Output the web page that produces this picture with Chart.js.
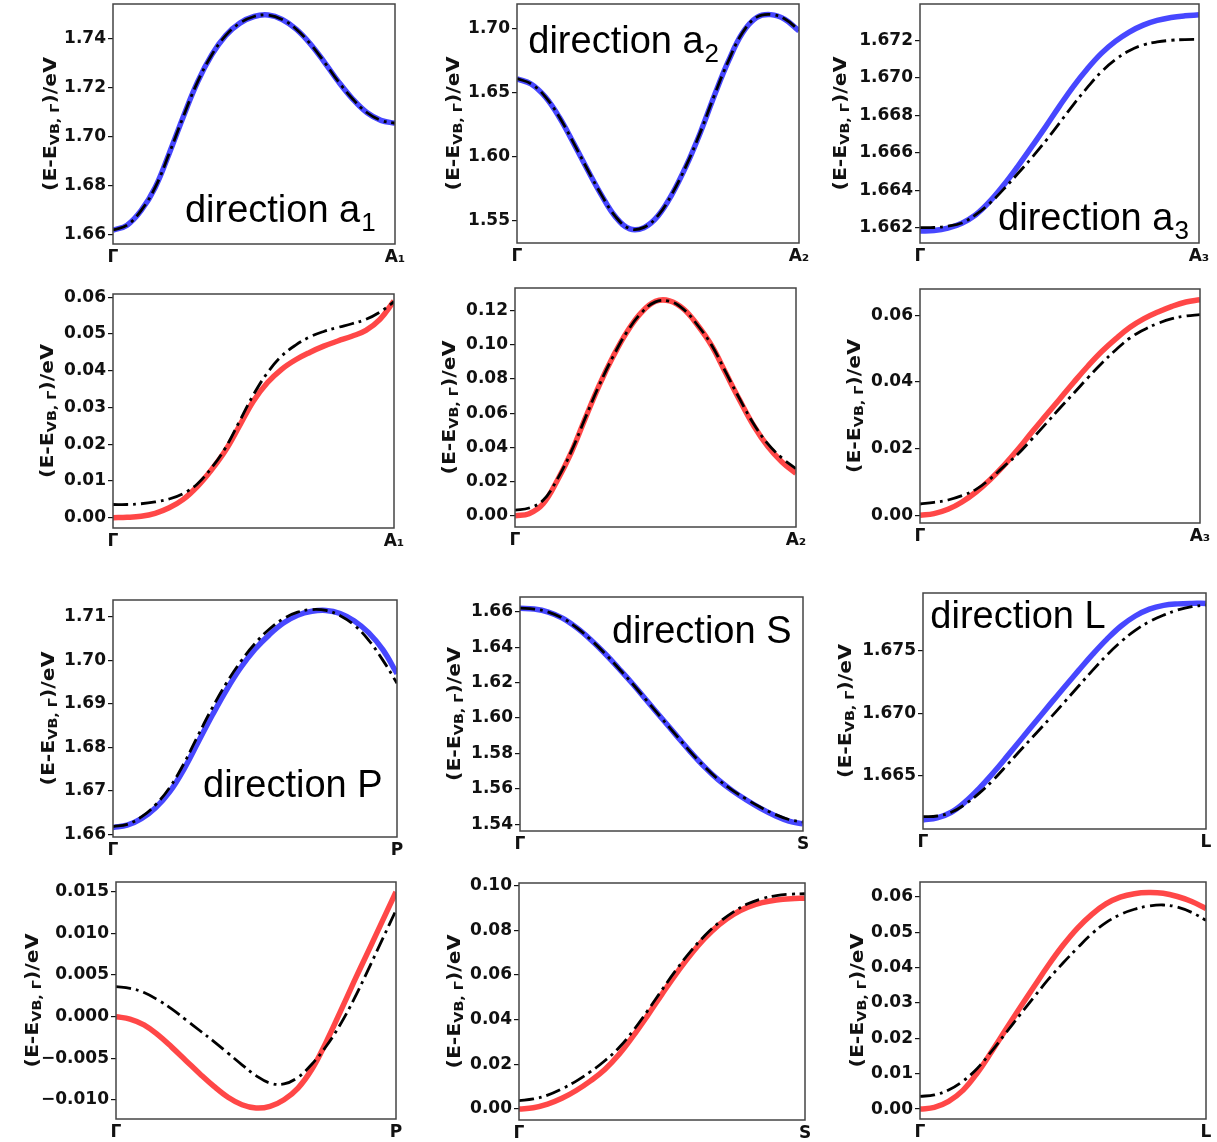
<!DOCTYPE html>
<html>
<head>
<meta charset="utf-8">
<title>Band dispersion along a1, a2, a3, P, S, L</title>
<script src="https://cdn.jsdelivr.net/npm/chart.js@4.4.1/dist/chart.umd.min.js"></script>
<style>
  html, body { margin: 0; padding: 0; background: #fff; overflow: hidden; }
  #figure { position: relative; width: 1217px; height: 1142px; }
  #figure canvas { position: absolute; }
</style>
</head>
<body>
<div id="figure"></div>
<script>
// fraction of the path from Γ to the end point
const kPath = [0, 0.05, 0.1, 0.15, 0.2, 0.25, 0.3, 0.35, 0.4, 0.45, 0.5,
               0.55, 0.6, 0.65, 0.7, 0.75, 0.8, 0.85, 0.9, 0.95, 1];

// --- direction a1 ---
const a1Labels = ['Γ', 'A₁'];
const a1VbTicks = [1.66, 1.68, 1.70, 1.72, 1.74];
const a1VbCalc = [1.6620, 1.6640, 1.6700, 1.6795, 1.6935, 1.7085, 1.7225, 1.7335, 1.7415, 1.7465, 1.7492,
                  1.7498, 1.7480, 1.7440, 1.7380, 1.7305, 1.7225, 1.7155, 1.7100, 1.7068, 1.7056];
const a1VbFit  = [1.6620, 1.6640, 1.6700, 1.6795, 1.6935, 1.7085, 1.7225, 1.7335, 1.7415, 1.7465, 1.7492,
                  1.7498, 1.7480, 1.7440, 1.7380, 1.7305, 1.7225, 1.7155, 1.7100, 1.7068, 1.7056];
const a1CbTicks = [0, 0.01, 0.02, 0.03, 0.04, 0.05, 0.06];
const a1CbCalc = [0.0000, 0.0001, 0.0004, 0.0012, 0.0027, 0.0050, 0.0085, 0.0130, 0.0183, 0.0250, 0.0318,
                  0.0368, 0.0404, 0.0430, 0.0450, 0.0467, 0.0481, 0.0494, 0.0510, 0.0540, 0.0590];
const a1CbFit  = [0.0036, 0.0036, 0.0038, 0.0043, 0.0051, 0.0066, 0.0092, 0.0135, 0.0190, 0.0262, 0.0335,
                  0.0395, 0.0440, 0.0470, 0.0492, 0.0507, 0.0518, 0.0528, 0.0540, 0.0560, 0.0588];

// --- direction a2 ---
const a2Labels = ['Γ', 'A₂'];
const a2VbTicks = [1.55, 1.60, 1.65, 1.70];
const a2VbCalc = [1.6610, 1.6570, 1.6470, 1.6310, 1.6110, 1.5900, 1.5700, 1.5530, 1.5438, 1.5448, 1.5540,
                  1.5710, 1.5930, 1.6190, 1.6480, 1.6750, 1.6970, 1.7090, 1.7112, 1.7075, 1.6985];
const a2VbFit  = [1.6612, 1.6572, 1.6472, 1.6312, 1.6112, 1.5902, 1.5702, 1.5532, 1.5440, 1.5450, 1.5542,
                  1.5712, 1.5932, 1.6192, 1.6482, 1.6752, 1.6972, 1.7092, 1.7113, 1.7078, 1.6990];
const a2CbTicks = [0, 0.02, 0.04, 0.06, 0.08, 0.10, 0.12];
const a2CbCalc = [0.0000, 0.0012, 0.0070, 0.0205, 0.0370, 0.0570, 0.0765, 0.0935, 0.1080, 0.1190, 0.1255,
                  0.1258, 0.1210, 0.1115, 0.0995, 0.0835, 0.0675, 0.0525, 0.0405, 0.0315, 0.0248];
const a2CbFit  = [0.0033, 0.0045, 0.0090, 0.0212, 0.0375, 0.0572, 0.0765, 0.0935, 0.1080, 0.1188, 0.1252,
                  0.1255, 0.1208, 0.1115, 0.0998, 0.0840, 0.0682, 0.0536, 0.0420, 0.0338, 0.0275];

// --- direction a3 ---
const a3Labels = ['Γ', 'A₃'];
const a3VbTicks = [1.662, 1.664, 1.666, 1.668, 1.670, 1.672];
const a3VbCalc = [1.66182, 1.66185, 1.66198, 1.66224, 1.66269, 1.66340, 1.66428, 1.66527, 1.66632, 1.66739, 1.66850,
                  1.66956, 1.67050, 1.67132, 1.67196, 1.67246, 1.67283, 1.67308, 1.67324, 1.67333, 1.67338];
const a3VbFit  = [1.66200, 1.66201, 1.66208, 1.66225, 1.66270, 1.66330, 1.66406, 1.66488, 1.66573, 1.66663, 1.66760,
                  1.66858, 1.66950, 1.67033, 1.67098, 1.67146, 1.67177, 1.67193, 1.67202, 1.67206, 1.67207];
const a3CbTicks = [0, 0.02, 0.04, 0.06];
const a3CbCalc = [0.0000, 0.0005, 0.0018, 0.0040, 0.0070, 0.0107, 0.0150, 0.0198, 0.0250, 0.0300, 0.0350,
                  0.0400, 0.0448, 0.0492, 0.0530, 0.0564, 0.0590, 0.0610, 0.0627, 0.0640, 0.0647];
const a3CbFit  = [0.0034, 0.0039, 0.0046, 0.0059, 0.0078, 0.0109, 0.0147, 0.0184, 0.0229, 0.0275, 0.0322,
                  0.0367, 0.0413, 0.0457, 0.0497, 0.0532, 0.0557, 0.0576, 0.0590, 0.0598, 0.0602];

// --- direction P ---
const pLabels = ['Γ', 'P'];
const pVbTicks = [1.66, 1.67, 1.68, 1.69, 1.70, 1.71];
const pVbCalc = [1.6616, 1.6621, 1.6636, 1.6661, 1.6698, 1.6750, 1.6812, 1.6874, 1.6932, 1.6983, 1.7025,
                 1.7058, 1.7085, 1.7103, 1.7112, 1.7114, 1.7107, 1.7090, 1.7063, 1.7024, 1.6969];
const pVbFit  = [1.6618, 1.6623, 1.6640, 1.6668, 1.6708, 1.6763, 1.6828, 1.6891, 1.6948, 1.6997, 1.7038,
                 1.7071, 1.7095, 1.7110, 1.7116, 1.7114, 1.7102, 1.7080, 1.7046, 1.7000, 1.6947];
const pCbTicks = [-0.010, -0.005, 0, 0.005, 0.010, 0.015];
const pCbCalc = [0.0000, -0.0003, -0.0010, -0.0022, -0.0037, -0.0053, -0.0069, -0.0084, -0.0097, -0.0106, -0.0110,
                 -0.0108, -0.0100, -0.0086, -0.0063, -0.0031, 0.0005, 0.0042, 0.0078, 0.0114, 0.0150];
const pCbFit  = [0.0036, 0.0034, 0.0029, 0.0020, 0.0009, -0.0004, -0.0017, -0.0030, -0.0044, -0.0058, -0.0071,
                 -0.0080, -0.0081, -0.0073, -0.0057, -0.0036, -0.0010, 0.0021, 0.0056, 0.0092, 0.0128];

// --- direction S ---
const sLabels = ['Γ', 'S'];
const sVbTicks = [1.54, 1.56, 1.58, 1.60, 1.62, 1.64, 1.66];
const sVbCalc = [1.6620, 1.6615, 1.6598, 1.6564, 1.6510, 1.6442, 1.6364, 1.6278, 1.6189, 1.6094, 1.6000,
                 1.5906, 1.5813, 1.5727, 1.5652, 1.5590, 1.5537, 1.5490, 1.5450, 1.5418, 1.5402];
const sVbFit  = [1.6620, 1.6615, 1.6598, 1.6564, 1.6510, 1.6442, 1.6364, 1.6278, 1.6189, 1.6094, 1.6000,
                 1.5906, 1.5813, 1.5728, 1.5654, 1.5593, 1.5542, 1.5496, 1.5457, 1.5427, 1.5413];
const sCbTicks = [0, 0.02, 0.04, 0.06, 0.08, 0.10];
const sCbCalc = [0.0000, 0.0006, 0.0022, 0.0048, 0.0083, 0.0126, 0.0177, 0.0245, 0.0328, 0.0419, 0.0514,
                 0.0606, 0.0690, 0.0764, 0.0825, 0.0871, 0.0903, 0.0923, 0.0935, 0.0941, 0.0943];
const sCbFit  = [0.0038, 0.0045, 0.0062, 0.0090, 0.0125, 0.0167, 0.0216, 0.0275, 0.0352, 0.0440, 0.0533,
                 0.0623, 0.0705, 0.0776, 0.0835, 0.0882, 0.0918, 0.0941, 0.0955, 0.0961, 0.0963];

// --- direction L ---
const lLabels = ['Γ', 'L'];
const lVbTicks = [1.665, 1.670, 1.675];
const lVbCalc = [1.66148, 1.66165, 1.66210, 1.66295, 1.66405, 1.66530, 1.66665, 1.66803, 1.66940, 1.67077, 1.67212,
                 1.67345, 1.67475, 1.67595, 1.67700, 1.67780, 1.67835, 1.67865, 1.67877, 1.67881, 1.67881];
const lVbFit  = [1.66175, 1.66180, 1.66210, 1.66275, 1.66365, 1.66472, 1.66595, 1.66720, 1.66842, 1.66965, 1.67092,
                 1.67220, 1.67347, 1.67468, 1.67575, 1.67665, 1.67735, 1.67787, 1.67828, 1.67855, 1.67868];
const lCbTicks = [0, 0.01, 0.02, 0.03, 0.04, 0.05, 0.06];
const lCbCalc = [0.0000, 0.0005, 0.0022, 0.0053, 0.0102, 0.0162, 0.0225, 0.0287, 0.0348, 0.0408, 0.0463,
                 0.0511, 0.0550, 0.0580, 0.0599, 0.0609, 0.0612, 0.0610, 0.0601, 0.0587, 0.0567];
const lCbFit  = [0.0036, 0.0040, 0.0054, 0.0079, 0.0115, 0.0163, 0.0215, 0.0267, 0.0318, 0.0368, 0.0413,
                 0.0455, 0.0495, 0.0527, 0.0550, 0.0565, 0.0574, 0.0577, 0.0571, 0.0556, 0.0534];

const BLUE = 'rgba(0, 0, 255, 0.72)';
const RED = 'rgba(255, 0, 0, 0.72)';
const PAD_LEFT = 100, PAD_TOP = 16, PAD_RIGHT = 16, AXIS_H = 24;
const TICK_FONT = { family: 'DejaVu Sans', weight: 'bold', size: 17 };

// frame = plot box [left, top, right, bottom] in page pixels
const panels = [
  { frame: [113, 4, 395, 244], yRange: [1.6563, 1.7543], ticks: a1VbTicks, dec: 2, labels: a1Labels, color: BLUE,
    calc: a1VbCalc, fit: a1VbFit, titleOff: 62, note: { text: 'direction a', sub: '1', fx: 0.255, fy: 0.908 } },
  { frame: [517, 4, 799, 243], yRange: [1.5328, 1.7195], ticks: a2VbTicks, dec: 2, labels: a2Labels, color: BLUE,
    calc: a2VbCalc, fit: a2VbFit, titleOff: 63, note: { text: 'direction a', sub: '2', fx: 0.04, fy: 0.205 } },
  { frame: [920, 4, 1199, 243], yRange: [1.66118, 1.67396], ticks: a3VbTicks, dec: 3, labels: a3Labels, color: BLUE,
    calc: a3VbCalc, fit: a3VbFit, titleOff: 79, note: { text: 'direction a', sub: '3', fx: 0.28, fy: 0.946 } },
  { frame: [113, 294, 394, 528], yRange: [-0.0028, 0.0609], ticks: a1CbTicks, dec: 2, labels: a1Labels, color: RED,
    calc: a1CbCalc, fit: a1CbFit, titleOff: 65 },
  { frame: [515, 288, 796, 527], yRange: [-0.0066, 0.1333], ticks: a2CbTicks, dec: 2, labels: a2Labels, color: RED,
    calc: a2CbCalc, fit: a2CbFit, titleOff: 65 },
  { frame: [920, 289, 1200, 523], yRange: [-0.0023, 0.0679], ticks: a3CbTicks, dec: 2, labels: a3Labels, color: RED,
    calc: a3CbCalc, fit: a3CbFit, titleOff: 65 },
  { frame: [113, 600, 397, 837], yRange: [1.6594, 1.7138], ticks: pVbTicks, dec: 2, labels: pLabels, color: BLUE,
    calc: pVbCalc, fit: pVbFit, titleOff: 64, note: { text: 'direction P', sub: '', fx: 0.317, fy: 0.831 } },
  { frame: [520, 597, 803, 831], yRange: [1.5362, 1.6683], ticks: sVbTicks, dec: 2, labels: sLabels, color: BLUE,
    calc: sVbCalc, fit: sVbFit, titleOff: 65, note: { text: 'direction S', sub: '', fx: 0.325, fy: 0.197 } },
  { frame: [923, 593, 1206, 829], yRange: [1.66076, 1.67964], ticks: lVbTicks, dec: 3, labels: lLabels, color: BLUE,
    calc: lVbCalc, fit: lVbFit, titleOff: 77, note: { text: 'direction L', sub: '', fx: 0.026, fy: 0.148 } },
  { frame: [116, 882, 396, 1119], yRange: [-0.01232, 0.0162], ticks: pCbTicks, dec: 3, labels: pLabels, color: RED,
    calc: pCbCalc, fit: pCbFit, titleOff: 83 },
  { frame: [519, 883, 805, 1120], yRange: [-0.0049, 0.1011], ticks: sCbTicks, dec: 2, labels: sLabels, color: RED,
    calc: sCbCalc, fit: sCbFit, titleOff: 64 },
  { frame: [920, 882, 1206, 1119], yRange: [-0.0028, 0.0642], ticks: lCbTicks, dec: 2, labels: lLabels, color: RED,
    calc: lCbCalc, fit: lCbFit, titleOff: 62 }
];

// rotated y title with the VB,Γ subscript
function drawYTitle(ctx, x, y) {
  const parts = [
    { t: '(E-E', f: 'bold 17px "DejaVu Sans"', dy: 0 },
    { t: 'VB, Γ', f: 'bold 12px "DejaVu Sans"', dy: 3 },
    { t: ')/eV', f: 'bold 17px "DejaVu Sans"', dy: 0 }
  ];
  ctx.save();
  ctx.translate(x, y);
  ctx.rotate(-Math.PI / 2);
  ctx.scale(1.2, 1);
  let total = 0;
  parts.forEach(p => { ctx.font = p.f; p.w = ctx.measureText(p.t).width; total += p.w; });
  let u = -total / 2;
  ctx.fillStyle = '#111';
  ctx.textBaseline = 'alphabetic';
  ctx.textAlign = 'left';
  parts.forEach(p => { ctx.font = p.f; ctx.fillText(p.t, u, 5 + p.dy); u += p.w; });
  ctx.restore();
}

const decorPlugin = {
  id: 'decor',
  afterDatasetsDraw(chart, args, opts) {
    const { ctx, chartArea: a } = chart;
    ctx.save();
    ctx.strokeStyle = '#444';
    ctx.lineWidth = 1.5;
    ctx.strokeRect(a.left, a.top, a.width, a.height);

    drawYTitle(ctx, a.left - opts.titleOff, (a.top + a.bottom) / 2);

    if (opts.note) {
      const n = opts.note;
      const x = a.left + n.fx * a.width;
      const y = a.top + n.fy * a.height;
      ctx.fillStyle = '#000';
      ctx.textAlign = 'left';
      ctx.textBaseline = 'alphabetic';
      ctx.font = '38px "Liberation Sans"';
      ctx.fillText(n.text, x, y);
      if (n.sub) {
        const w = ctx.measureText(n.text).width;
        ctx.font = '26px "Liberation Sans"';
        ctx.fillText(n.sub, x + w + 1, y + 9);
      }
    }
    ctx.restore();
  }
};

const figure = document.getElementById('figure');

panels.forEach(p => {
  const [l, t, r, b] = p.frame;
  const canvas = document.createElement('canvas');
  canvas.width = PAD_LEFT + (r - l) + PAD_RIGHT;
  canvas.height = PAD_TOP + (b - t) + AXIS_H;
  canvas.style.left = (l - PAD_LEFT) + 'px';
  canvas.style.top = (t - PAD_TOP) + 'px';
  figure.appendChild(canvas);

  new Chart(canvas, {
    type: 'line',
    data: {
      datasets: [
        {
          data: kPath.map((k, j) => ({ x: k, y: p.fit[j] })),
          borderColor: '#000',
          borderWidth: 2.8,
          borderDash: [15, 5, 3, 5]
        },
        {
          data: kPath.map((k, j) => ({ x: k, y: p.calc[j] })),
          borderColor: p.color,
          borderWidth: 5.5
        }
      ]
    },
    options: {
      responsive: false,
      animation: false,
      devicePixelRatio: 1,
      layout: { padding: { top: PAD_TOP, right: PAD_RIGHT, left: 0, bottom: 0 } },
      elements: {
        point: { radius: 0 },
        line: { tension: 0.4, fill: false }
      },
      plugins: {
        legend: { display: false },
        tooltip: { enabled: false },
        decor: { titleOff: p.titleOff, note: p.note }
      },
      scales: {
        x: {
          type: 'linear',
          min: 0,
          max: 1,
          grid: { display: false, drawTicks: false },
          border: { display: false },
          afterBuildTicks: s => { s.ticks = [{ value: 0 }, { value: 1 }]; },
          afterFit: s => { s.height = AXIS_H; },
          ticks: {
            autoSkip: false,
            maxRotation: 0,
            padding: 3,
            color: '#111',
            font: TICK_FONT,
            callback: v => (v === 0 ? p.labels[0] : p.labels[1])
          }
        },
        y: {
          type: 'linear',
          min: p.yRange[0],
          max: p.yRange[1],
          grid: { drawOnChartArea: false, drawTicks: true, tickLength: 5, tickColor: '#111', lineWidth: 1.2 },
          border: { display: false },
          afterBuildTicks: s => { s.ticks = p.ticks.map(v => ({ value: v })); },
          afterFit: s => { s.width = PAD_LEFT; },
          ticks: {
            padding: 2,
            color: '#111',
            font: TICK_FONT,
            callback: v => v.toFixed(p.dec).replace('-', '\u2212')
          }
        }
      }
    },
    plugins: [decorPlugin]
  });
});
</script>
</body>
</html>
